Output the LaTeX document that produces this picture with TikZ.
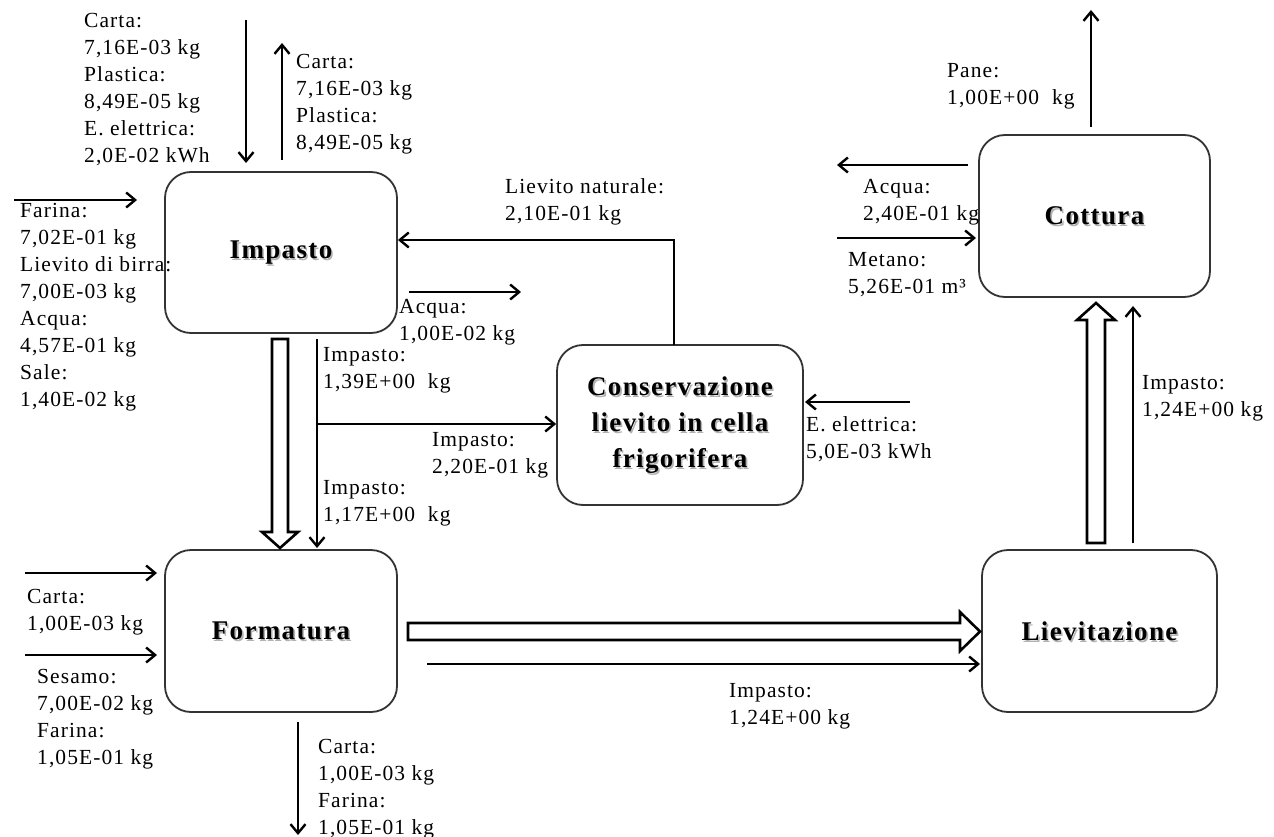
\documentclass[tikz,border=0pt]{standalone}
\usepackage{fontspec}
\setmainfont{Liberation Serif}[LetterSpace=5]
\usetikzlibrary{arrows.meta}
\begin{document}
\begin{tikzpicture}[x=1pt,y=-1pt,
  box/.style={draw=black!80, line width=1.8pt, rounded corners=26pt, fill=white},
  ttl/.style={font=\fontsize{27}{36}\selectfont\bfseries, align=center, text=black, inner sep=0pt},
  shd/.style={font=\fontsize{27}{36}\selectfont\bfseries, align=center, text=black!30, inner sep=0pt},
  lbl/.style={font=\fontsize{21.5}{27}\selectfont, align=left, anchor=north west, inner sep=0pt},
  arr/.style={line width=2.4pt, -{Straight Barb[length=9pt,width=15pt,line width=2.4pt]}},
  hol/.style={line width=2.6pt, fill=white, line join=miter}]
\useasboundingbox (0,0) rectangle (1274,837);
\fill[white] (0,0) rectangle (1274,837);

% boxes
\node[box, minimum width=232pt, minimum height=161pt] (imp) at (281,252.5) {};
\node[box, minimum width=232pt, minimum height=162pt] (form) at (281,631) {};
\node[box, minimum width=246pt, minimum height=160pt] (cons) at (680,425) {};
\node[box, minimum width=231pt, minimum height=162pt] (cott) at (1094.5,216) {};
\node[box, minimum width=235pt, minimum height=162pt] (liev) at (1099.5,631) {};

% titles (with soft shadow)
\node[shd] (impS) at ([shift={(1.6,2.2)}]imp.center) {Impasto};
\node[ttl] (impT) at (imp.center) {Impasto};
\node[shd] (formS) at ([shift={(1.6,2.2)}]form.center) {Formatura};
\node[ttl] (formT) at (form.center) {Formatura};
\node[shd] (consS) at ([shift={(1.6,2.2)}]cons.center) {Conservazione\\lievito in cella\\frigorifera};
\node[ttl] (consT) at (cons.center) {Conservazione\\lievito in cella\\frigorifera};
\node[shd] (cottS) at ([shift={(1.6,2.2)}]cott.center) {Cottura};
\node[ttl] (cottT) at (cott.center) {Cottura};
\node[shd] (lievS) at ([shift={(1.6,2.2)}]liev.center) {Lievitazione};
\node[ttl] (lievT) at (liev.center) {Lievitazione};

% endpoints of free arrows
\coordinate (a1s) at (246,20);   \coordinate (a1e) at (246,163);
\coordinate (a2s) at (282,160);  \coordinate (a2e) at (282,43);
\coordinate (a3s) at (14,200);   \coordinate (a3e) at (137,200);
\coordinate (a4s) at (409,292);  \coordinate (a4e) at (521,292);
\coordinate (ln1) at (674,345);  \coordinate (ln2) at (674,240);
\coordinate (t1s) at (317,339);  \coordinate (t1e) at (317,548);
\coordinate (br)  at (317,424);
\coordinate (a5s) at (910,402);  \coordinate (a5e) at (805,402);
\coordinate (a6s) at (1091,127); \coordinate (a6e) at (1091,10);
\coordinate (a7s) at (968,165);  \coordinate (a7e) at (837,165);
\coordinate (a8s) at (837,238);  \coordinate (a8e) at (976,238);
\coordinate (a9s) at (25,573);   \coordinate (a9e) at (157,573);
\coordinate (a10s) at (25,655);  \coordinate (a10e) at (157,655);
\coordinate (a11s) at (298,722); \coordinate (a11e) at (298,835);
\coordinate (t2s) at (427,664);  \coordinate (t2e) at (980,664);
\coordinate (t3s) at (1133,543); \coordinate (t3e) at (1133,306);

% thin arrows
\draw[arr] (a1s) -- (a1e);
\draw[arr] (a2s) -- (a2e);
\draw[arr] (a3s) -- (a3e);
\draw[arr] (a4s) -- (a4e);
\draw[arr] (ln1) -- (ln2) -- (ln2 -| imp.east);
\draw[arr] (t1s) -- (t1e);
\draw[arr] (br) -- (br -| cons.west);
\draw[arr] (a5s) -- (a5e);
\draw[arr] (a6s) -- (a6e);
\draw[arr] (a7s) -- (a7e);
\draw[arr] (a8s) -- (a8e);
\draw[arr] (a9s) -- (a9e);
\draw[arr] (a10s) -- (a10e);
\draw[arr] (a11s) -- (a11e);
\draw[arr] (t2s) -- (t2e);
\draw[arr] (t3s) -- (t3e);

% hollow arrows
\draw[hol] (272,339) -- (288,339) -- (288,532) -- (298,532) -- (280,548) -- (262,532) -- (272,532) -- cycle;
\draw[hol] (408,623) -- (960,623) -- (960,612) -- (980,631.5) -- (960,651) -- (960,640) -- (408,640) -- cycle;
\draw[hol] (1087,543) -- (1087,320) -- (1077,320) -- (1096,303) -- (1115,320) -- (1105,320) -- (1105,543) -- cycle;

% labels
\node[lbl] (l1) at (84,13) {Carta:\\7,16E-03 kg\\Plastica:\\8,49E-05 kg\\E. elettrica:\\2,0E-02 kWh};
\node[lbl] (l2) at (296,54) {Carta:\\7,16E-03 kg\\Plastica:\\8,49E-05 kg};
\node[lbl] (l3) at (20,203) {Farina:\\7,02E-01 kg\\Lievito di birra:\\7,00E-03 kg\\Acqua:\\4,57E-01 kg\\Sale:\\1,40E-02 kg};
\node[lbl] (l4) at (505,178) {Lievito naturale:\\2,10E-01 kg};
\node[lbl] (l5) at (399,299) {Acqua:\\1,00E-02 kg};
\node[lbl] (l6) at (323,347) {Impasto:\\1,39E+00\ \ kg};
\node[lbl] (l7) at (432,432) {Impasto:\\2,20E-01 kg};
\node[lbl] (l8) at (323,480) {Impasto:\\1,17E+00\ \ kg};
\node[lbl] (l9) at (806,416) {E. elettrica:\\5,0E-03 kWh};
\node[lbl] (l10) at (947,63) {Pane:\\1,00E+00\ \ kg};
\node[lbl] (l11) at (863,179) {Acqua:\\2,40E-01 kg};
\node[lbl] (l12) at (848,252) {Metano:\\5,26E-01 m³};
\node[lbl] (l13) at (1142,375) {Impasto:\\1,24E+00 kg};
\node[lbl] (l14) at (729,683) {Impasto:\\1,24E+00 kg};
\node[lbl] (l15) at (27,589) {Carta:\\1,00E-03 kg};
\node[lbl] (l16) at (37,669) {Sesamo:\\7,00E-02 kg\\Farina:\\1,05E-01 kg};
\node[lbl] (l17) at (318,739) {Carta:\\1,00E-03 kg\\Farina:\\1,05E-01 kg};
\end{tikzpicture}
\end{document}
